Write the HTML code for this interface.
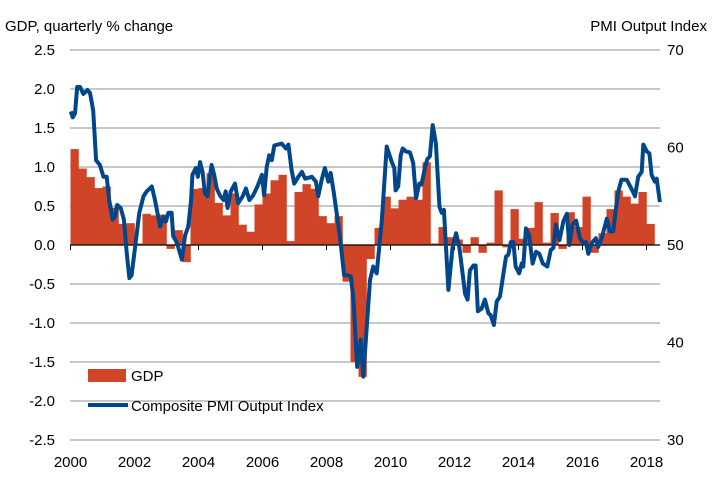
<!DOCTYPE html>
<html><head><meta charset="utf-8"><style>
body{margin:0;background:#fff;}
svg text{font-family:"Liberation Sans",sans-serif;font-size:15px;fill:#000;}
</style></head><body>
<svg width="716" height="495" xmlns="http://www.w3.org/2000/svg">
<g id="grid"></g><g id="bars"></g><g id="axis"></g><g id="line"></g><g id="labels"></g>
<text x="5" y="31">GDP, quarterly % change</text>
<text x="707" y="31" text-anchor="end">PMI Output  Index</text>
<g>
<rect x="88" y="369" width="38" height="13" fill="#d04527"/>
<text x="131" y="381">GDP</text>
<line x1="88" y1="405" x2="128" y2="405" stroke="#00468b" stroke-width="4"/>
<text x="131" y="411">Composite PMI Output Index</text>
</g>
</svg>
<script>
const leftTicks=[2.5,2.0,1.5,1.0,0.5,0.0,-0.5,-1.0,-1.5,-2.0,-2.5];
const leftTickLabels=["2.5","2.0","1.5","1.0","0.5","0.0","-0.5","-1.0","-1.5","-2.0","-2.5"];
const rightTicks=[70,60,50,40,30];
const yearTicks=[2000,2002,2004,2006,2008,2010,2012,2014,2016,2018];
const gdpStartYear=2000;
const gdpValues=[1.23,0.98,0.87,0.73,0.75,0.48,0.27,0.28,0.02,0.4,0.38,0.39,-0.05,0.19,-0.22,0.72,0.73,0.92,0.54,0.38,0.66,0.26,0.17,0.52,0.66,0.83,0.9,0.05,0.68,0.78,0.72,0.37,0.28,0.37,-0.47,-1.5,-1.69,-0.18,0.22,0.62,0.47,0.58,0.62,0.58,1.06,0.02,0.23,0.10,0.07,-0.1,0.1,-0.1,0.03,0.7,-0.03,0.46,0.08,0.22,0.55,0.03,0.41,-0.05,0.42,0.23,0.62,-0.1,0.15,0.46,0.7,0.62,0.53,0.68,0.27];
const pmiYears=[2000.01,2000.07,2000.14,2000.21,2000.30,2000.40,2000.53,2000.61,2000.71,2000.80,2000.92,2001.03,2001.13,2001.21,2001.32,2001.39,2001.46,2001.57,2001.67,2001.76,2001.84,2001.91,2002.02,2002.15,2002.28,2002.38,2002.54,2002.64,2002.80,2002.90,2002.98,2003.06,2003.16,2003.21,2003.32,2003.48,2003.58,2003.68,2003.77,2003.81,2003.92,2003.98,2004.05,2004.13,2004.20,2004.28,2004.34,2004.41,2004.49,2004.57,2004.67,2004.78,2004.85,2004.91,2005.01,2005.14,2005.24,2005.38,2005.48,2005.59,2005.71,2005.84,2005.98,2006.05,2006.13,2006.21,2006.29,2006.37,2006.60,2006.73,2006.81,2006.91,2006.99,2007.12,2007.23,2007.33,2007.54,2007.67,2007.74,2007.85,2007.95,2008.06,2008.13,2008.23,2008.42,2008.55,2008.63,2008.76,2008.84,2008.96,2009.07,2009.15,2009.36,2009.46,2009.57,2009.73,2009.88,2010.04,2010.12,2010.16,2010.24,2010.32,2010.38,2010.48,2010.61,2010.71,2010.80,2010.90,2010.97,2011.08,2011.15,2011.23,2011.32,2011.42,2011.53,2011.60,2011.67,2011.81,2011.94,2012.05,2012.15,2012.33,2012.41,2012.48,2012.59,2012.66,2012.73,2012.85,2012.95,2013.06,2013.13,2013.23,2013.32,2013.42,2013.53,2013.61,2013.68,2013.76,2013.84,2013.91,2014.02,2014.10,2014.15,2014.23,2014.33,2014.44,2014.55,2014.65,2014.76,2014.90,2015.01,2015.09,2015.17,2015.28,2015.40,2015.51,2015.59,2015.69,2015.80,2015.92,2016.03,2016.11,2016.18,2016.29,2016.42,2016.49,2016.60,2016.76,2016.86,2016.96,2017.04,2017.12,2017.22,2017.38,2017.54,2017.64,2017.74,2017.85,2017.90,2018.01,2018.09,2018.16,2018.26,2018.32,2018.42];
const pmiValues=[63.7,63.1,63.5,66.2,66.2,65.5,65.9,65.6,63.8,58.7,58.2,57.0,57.0,54.6,52.6,52.9,54.1,53.8,52.6,49.1,46.6,46.9,49.8,53.3,55.0,55.5,56.0,54.6,51.9,52.9,52.4,53.3,53.3,50.9,50.3,48.5,51.0,51.9,54.6,57.2,57.9,57.0,58.5,57.4,55.3,55.0,56.7,58.2,57.2,55.8,55.1,54.6,55.5,53.8,55.5,56.3,54.3,55.0,55.8,54.6,55.1,56.0,57.2,55.1,58.0,59.2,58.7,60.2,60.4,59.9,60.3,57.7,56.3,57.0,57.5,56.8,57.0,56.5,55.0,56.7,57.9,56.5,57.4,55.3,50.9,46.9,46.9,46.8,44.5,37.5,40.3,36.5,46.4,47.8,47.1,52.6,60.1,58.5,57.9,55.6,56.0,59.2,59.9,59.6,59.5,58.4,54.8,56.3,56.2,58.0,58.8,59.1,62.3,60.4,53.9,53.3,53.6,45.4,49.8,51.2,49.8,45.0,44.4,47.4,47.9,47.9,43.2,43.5,44.4,43.0,42.8,41.8,44.2,44.7,47.1,48.8,49.0,50.3,50.3,47.8,47.1,48.1,47.8,51.7,51.0,48.1,49.3,49.1,48.1,47.8,49.5,49.7,52.1,50.5,52.4,53.2,50.0,52.1,52.5,50.7,50.2,50.3,49.1,50.2,50.7,49.8,50.7,52.7,51.4,51.4,53.6,55.5,56.7,56.7,55.7,55.0,57.0,57.5,60.3,59.6,59.4,57.2,56.5,56.8,54.4];

const NS="http://www.w3.org/2000/svg";
const X0=70.5,PX_PER_YEAR=32,PLOT_R=660;
const xScale=y=>X0+(y-2000)*PX_PER_YEAR;
const yL=v=>245-v*78;
const yR=v=>245-(v-50)*9.75;
function mk(tag,attrs,parent){const e=document.createElementNS(NS,tag);for(const k in attrs)e.setAttribute(k,attrs[k]);document.getElementById(parent).appendChild(e);return e;}

leftTicks.forEach((v,i)=>{
  if(v!==0){const g=mk('line',{x1:70,x2:PLOT_R,y1:yL(v),y2:yL(v),stroke:'#a6a6a6','stroke-width':1.3},'grid');
  
  }
  const t=mk('text',{x:55,y:yL(v)+5,'text-anchor':'end'},'labels');t.textContent=leftTickLabels[i];
  
  
});
rightTicks.forEach(v=>{
  const t=mk('text',{x:667,y:yR(v)+5},'labels');t.textContent=String(v);
  
  
});
yearTicks.forEach(yr=>{
  const t=mk('text',{x:xScale(yr),y:467,'text-anchor':'middle'},'labels');t.textContent=String(yr);
  
  
  const tk=mk('line',{x1:xScale(yr),x2:xScale(yr),y1:245,y2:250,stroke:'#000','stroke-width':1},'axis');
  
  
});
const ax=mk('line',{x1:70,x2:PLOT_R,y1:245,y2:245,stroke:'#000','stroke-width':1.3},'axis');



gdpValues.forEach((v,i)=>{
  const yr=gdpStartYear+i/4;
  const x=xScale(yr);const w=PX_PER_YEAR/4;
  const r=mk('rect',{x:x,width:w+0.3,y:Math.min(yL(v),yL(0)),height:Math.abs(yL(v)-yL(0)),fill:'#d04527'},'bars');
  
  
});
const pts=pmiYears.map((yr,i)=>xScale(yr).toFixed(1)+','+yR(pmiValues[i]).toFixed(1)).join(' ');
const pl=mk('polyline',{points:pts,fill:'none',stroke:'#00468b','stroke-width':4,'stroke-linejoin':'round'},'line');


</script>
</body></html>
